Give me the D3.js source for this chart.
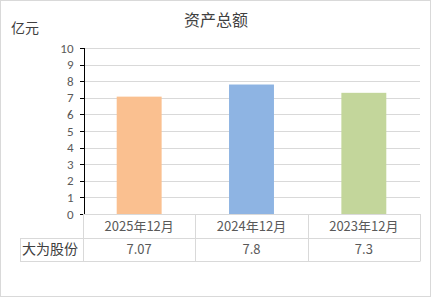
<!DOCTYPE html>
<html>
<head>
<meta charset="utf-8">
<script src="https://cdn.jsdelivr.net/npm/d3@7"></script>
<style>
  body { margin: 0; background: #fff; }
  svg { font-family: "Microsoft YaHei", "Noto Sans CJK SC", sans-serif; }
</style>
</head>
<body>
<svg id="chart" width="434" height="298"></svg>
<script>
// ----- 数据 -----
const categories = ["2025年12月", "2024年12月", "2023年12月"];
const values = [7.07, 7.8, 7.3];
const valueLabels = ["7.07", "7.8", "7.3"];
const seriesName = "大为股份";
const yTicks = [0, 1, 2, 3, 4, 5, 6, 7, 8, 9, 10];
const barColors = ["#fac090", "#8eb4e3", "#c3d69b"];

const svg = d3.select("#chart");
const W = 434, H = 298;
const margin = { top: 48, right: 14, bottom: 84, left: 83 };
const plotW = W - margin.left - margin.right;
const plotH = H - margin.top - margin.bottom;

// 外框
svg.append("rect")
    .attr("x", 0.5).attr("y", 0.5)
    .attr("width", W - 4).attr("height", H - 2)
    .attr("fill", "#fff").attr("stroke", "#d9d9d9");

// 标题
svg.append("text")
    .attr("x", 216).attr("y", 26)
    .attr("text-anchor", "middle")
    .style("font-size", "16px").style("fill", "#404040")
    .text("资产总额");

svg.append("text")
    .attr("x", 11).attr("y", 33)
    .style("font-size", "14px").style("fill", "#404040")
    .text("亿元");

const g = svg.append("g").attr("transform", `translate(${margin.left},${margin.top})`);

const x = d3.scaleBand().domain(categories).range([0, plotW]).paddingInner(0).paddingOuter(0);
const y = d3.scaleLinear().domain([0, 10]).range([plotH, 0]);

// 网格线
g.append("g")
    .selectAll("line")
    .data(yTicks)
    .enter().append("line")
    .attr("x1", 0).attr("x2", plotW)
    .attr("y1", d => Math.round(y(d)) + 0.5).attr("y2", d => Math.round(y(d)) + 0.5)
    .attr("stroke", "#d9d9d9");

// 柱子
const barW = x.bandwidth() * 0.4;
g.append("g")
    .selectAll("rect")
    .data(values)
    .enter().append("rect")
    .attr("x", (d, i) => x(categories[i]) + (x.bandwidth() - barW) / 2)
    .attr("y", d => y(d))
    .attr("width", barW)
    .attr("height", d => plotH - y(d))
    .attr("fill", (d, i) => barColors[i]);

// y 轴
const yAxis = g.append("g")
    .attr("transform", "translate(0.5,0)")
    .call(d3.axisLeft(y).tickValues(yTicks).tickSize(4).tickPadding(6));
yAxis.select(".domain").attr("stroke", "#000").attr("shape-rendering", "crispEdges");
yAxis.selectAll(".tick line").attr("stroke", "#000").attr("shape-rendering", "crispEdges");
yAxis.selectAll("text").style("font-size", "13px").style("fill", "#595959")
    .style("font-family", "Calibri, Carlito, 'Liberation Sans', sans-serif");

// 数据表
const rowH = 23.5;
const tableLeft = 20 - margin.left;
const table = g.append("g").attr("transform", `translate(0,${plotH})`);
const lc = "#d9d9d9";
// 横线
[0, rowH, rowH * 2].forEach((yy, i) => {
    table.append("line")
        .attr("x1", i === 0 ? 0 : tableLeft).attr("x2", plotW)
        .attr("y1", Math.round(yy) + 0.5).attr("y2", Math.round(yy) + 0.5)
        .attr("stroke", lc);
});
// 竖线
table.append("line")
    .attr("x1", tableLeft + 0.5).attr("x2", tableLeft + 0.5)
    .attr("y1", Math.round(rowH) + 0.5).attr("y2", Math.round(rowH * 2) + 0.5)
    .attr("stroke", lc);
categories.concat([null]).forEach((c, i) => {
    const xx = c === null ? plotW : x(c);
    table.append("line")
        .attr("x1", Math.round(xx) + 0.5).attr("x2", Math.round(xx) + 0.5)
        .attr("y1", 0).attr("y2", Math.round(rowH * 2) + 0.5)
        .attr("stroke", lc);
});
// 分类标签
table.selectAll("text.cat")
    .data(categories)
    .enter().append("text")
    .attr("class", "cat")
    .attr("x", d => x(d) + x.bandwidth() / 2)
    .attr("y", rowH / 2 + 5)
    .attr("text-anchor", "middle")
    .style("font-size", "13px").style("fill", "#595959")
    .text(d => d);
// 数值
table.selectAll("text.val")
    .data(valueLabels)
    .enter().append("text")
    .attr("class", "val")
    .attr("x", (d, i) => x(categories[i]) + x.bandwidth() / 2)
    .attr("y", rowH * 1.5 + 5)
    .attr("text-anchor", "middle")
    .style("font-size", "13px").style("fill", "#595959")
    .text(d => d);
table.append("text")
    .attr("x", tableLeft + 2)
    .attr("y", rowH * 1.5 + 5)
    .style("font-size", "14px").style("fill", "#404040")
    .text(seriesName);
</script>
</body>
</html>
